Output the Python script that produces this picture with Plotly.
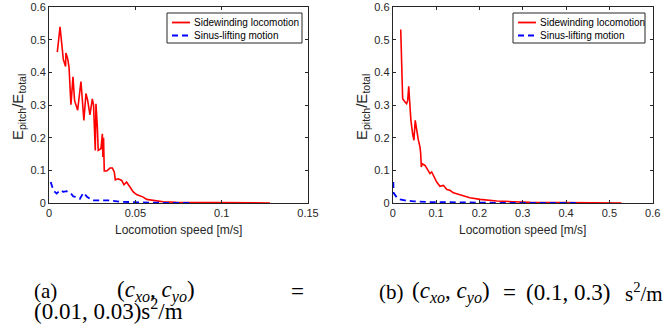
import plotly.graph_objects as go

# ---------------- data ----------------
# (a) left panel
a_side_x = [0.0048, 0.0064, 0.0083, 0.0096, 0.0098, 0.0108, 0.0116, 0.0127, 0.0139, 0.0148,
            0.0166, 0.0185, 0.0202, 0.0214, 0.0224, 0.0237, 0.0251, 0.0258, 0.0268, 0.0272,
            0.0280, 0.0285, 0.0301, 0.0309, 0.0312, 0.0316, 0.0320, 0.0334, 0.0353, 0.0367,
            0.0378, 0.0384, 0.0401, 0.0421, 0.0434, 0.0449, 0.0469, 0.0488, 0.0507, 0.0526,
            0.0546, 0.0565, 0.0604, 0.0661, 0.0738, 0.0873, 0.107, 0.128]
a_side_y = [0.462, 0.539, 0.439, 0.418, 0.459, 0.442, 0.416, 0.301, 0.386, 0.314,
            0.284, 0.372, 0.253, 0.335, 0.314, 0.270, 0.319, 0.300, 0.161, 0.304,
            0.233, 0.161, 0.166, 0.212, 0.141, 0.200, 0.098, 0.098, 0.107, 0.107,
            0.095, 0.071, 0.074, 0.069, 0.056, 0.064, 0.049, 0.034, 0.026, 0.023,
            0.018, 0.011, 0.008, 0.004, 0.002, 0.001, 0.0005, 0.0]
a_sin_x = [0.0010, 0.0025, 0.0044, 0.0064, 0.0083, 0.0102, 0.0127, 0.0141, 0.0160, 0.0179,
           0.0199, 0.0222, 0.0237, 0.0256, 0.0295, 0.0353, 0.0410, 0.0488, 0.0584, 0.0680,
           0.0835]
a_sin_y = [0.064, 0.039, 0.029, 0.039, 0.034, 0.036, 0.029, 0.020, 0.018, 0.013,
           0.031, 0.018, 0.013, 0.008, 0.008, 0.008, 0.004, 0.002, 0.001, 0.0005,
           0.0]

# (b) right panel
b_side_x = [0.0185, 0.023, 0.0285, 0.032, 0.0346, 0.037, 0.039, 0.042, 0.046, 0.049,
            0.052, 0.055, 0.059, 0.063, 0.0646, 0.066, 0.068, 0.0746, 0.080, 0.086,
            0.090, 0.095, 0.1015, 0.109, 0.117, 0.125, 0.132, 0.140, 0.155, 0.178,
            0.2015, 0.240, 0.278, 0.317, 0.394, 0.528]
b_side_y = [0.531, 0.319, 0.309, 0.304, 0.314, 0.357, 0.314, 0.253, 0.212, 0.192,
            0.253, 0.222, 0.194, 0.171, 0.151, 0.110, 0.120, 0.115, 0.105, 0.090,
            0.095, 0.080, 0.064, 0.051, 0.054, 0.041, 0.039, 0.031, 0.026, 0.016,
            0.011, 0.006, 0.004, 0.002, 0.001, 0.0]
b_sin_x = [0.0015, 0.002, 0.009, 0.017, 0.028, 0.048, 0.086, 0.163, 0.240, 0.425]
b_sin_y = [0.064, 0.031, 0.018, 0.011, 0.008, 0.005, 0.003, 0.001, 0.0005, 0.0]

series_names = ["Sidewinding locomotion", "Sinus-lifting motion"]
a_xticks = [0, 0.05, 0.1, 0.15]
a_xticklabels = ["0", "0.05", "0.1", "0.15"]
b_xticks = [0, 0.1, 0.2, 0.3, 0.4, 0.5, 0.6]
b_xticklabels = ["0", "0.1", "0.2", "0.3", "0.4", "0.5", "0.6"]
yticks = [0, 0.1, 0.2, 0.3, 0.4, 0.5, 0.6]
yticklabels = ["0", "0.1", "0.2", "0.3", "0.4", "0.5", "0.6"]

# ---------------- figure ----------------
W, H = 663, 331
AXC = "#262626"
RED = "#ff0000"
BLUE = "#0000ff"
SANS = "Liberation Sans, Arial, sans-serif"
SERIF = "Liberation Serif, Times New Roman, serif"
DASH = "6px,4px"


def px(x):
    return x / W


def py(y):
    return 1 - y / H


fig = go.Figure()

fig.add_trace(go.Scatter(x=a_side_x, y=a_side_y, mode="lines", name=series_names[0],
                         line=dict(color=RED, width=1.6), xaxis="x", yaxis="y"))
fig.add_trace(go.Scatter(x=a_sin_x, y=a_sin_y, mode="lines", name=series_names[1],
                         line=dict(color=BLUE, width=1.8, dash=DASH), xaxis="x", yaxis="y"))
fig.add_trace(go.Scatter(x=b_side_x, y=b_side_y, mode="lines", name=series_names[0],
                         line=dict(color=RED, width=1.6), xaxis="x2", yaxis="y2"))
fig.add_trace(go.Scatter(x=b_sin_x, y=b_sin_y, mode="lines", name=series_names[1],
                         line=dict(color=BLUE, width=1.8, dash=DASH), xaxis="x2", yaxis="y2"))

tickfont = dict(family=SANS, size=11, color=AXC)
axis_common = dict(showline=True, linecolor=AXC, linewidth=1, mirror="allticks",
                   ticks="inside", ticklen=3, tickcolor=AXC, tickwidth=1,
                   showgrid=False, zeroline=False, tickfont=tickfont)

A_X = (49, 308)
B_X = (392.7, 652.7)
dom_y = [py(203), py(7)]
fig.update_layout(
    width=W, height=H, margin=dict(l=0, r=0, t=0, b=0, pad=0, autoexpand=False),
    paper_bgcolor="white", plot_bgcolor="white", showlegend=False,
    xaxis=dict(domain=[px(A_X[0]), px(A_X[1])], range=[0, 0.15], tickvals=a_xticks,
               ticktext=a_xticklabels, anchor="y", **axis_common),
    yaxis=dict(domain=dom_y, range=[0, 0.6], tickvals=yticks, ticktext=yticklabels,
               anchor="x", **axis_common),
    xaxis2=dict(domain=[px(B_X[0]), px(B_X[1])], range=[0, 0.6], tickvals=b_xticks,
                ticktext=b_xticklabels, anchor="y2", **axis_common),
    yaxis2=dict(domain=dom_y, range=[0, 0.6], tickvals=yticks, ticktext=yticklabels,
                anchor="x2", **axis_common),
)

annos = []
shapes = []

# legends (MATLAB-style boxes)
legend_font = dict(family=SANS, size=10, color="black")
for (bx0, bx1) in [(167, 302), (513, 645)]:
    shapes.append(dict(type="rect", xref="paper", yref="paper", x0=px(bx0), x1=px(bx1),
                       y0=py(43), y1=py(13), line=dict(color=AXC, width=1), fillcolor="white",
                       layer="above"))
    for name, color, dash, yy in [(series_names[0], RED, "solid", 22.5),
                                  (series_names[1], BLUE, DASH, 35.5)]:
        shapes.append(dict(type="line", xref="paper", yref="paper", x0=px(bx0 + 5), x1=px(bx0 + 23),
                           y0=py(yy), y1=py(yy), line=dict(color=color, width=1.8, dash=dash),
                           layer="above"))
        annos.append(dict(text=name, x=px(bx0 + 25), y=py(yy), xref="paper", yref="paper",
                          showarrow=False, xanchor="left", yanchor="middle", font=legend_font))

# axis titles
title_font = dict(family=SANS, size=12, color=AXC)
ytitle = "E<sub>pitch</sub>/E<sub>total</sub>"
for (x0, x1) in [A_X, B_X]:
    annos.append(dict(text="Locomotion speed [m/s]", x=px((x0 + x1) / 2), y=py(230), xref="paper",
                      yref="paper", showarrow=False, xanchor="center", yanchor="middle",
                      font=title_font))
for cx in [19, 363]:
    annos.append(dict(text=ytitle, x=px(cx), y=py(107), xref="paper", yref="paper",
                      showarrow=False, xanchor="center", yanchor="middle", textangle=-90,
                      font=dict(family=SANS, size=15, color=AXC)))

# captions
text_font = dict(family=SERIF, size=21, color="black")
math_font = dict(family=SERIF, size=23, color="black")
c_xo = "<i>c</i><sub><i>xo</i></sub>"
c_yo = "<i>c</i><sub><i>yo</i></sub>"
caps = [
    ("(a)", 32, 291, text_font, "left"),
    (f"({c_xo}, {c_yo})", 156, 291, math_font, "center"),
    ("=", 297, 291, math_font, "center"),
    ("(0.01, 0.03)s<sup>2</sup>/m", 32, 309, math_font, "left"),
    ("(b)", 377, 292, text_font, "left"),
    (f"({c_xo}, {c_yo})", 451, 292, math_font, "center"),
    ("=", 509, 292, math_font, "center"),
    ("(0.1, 0.3)", 568, 292, math_font, "center"),
    ("s<sup>2</sup>/m", 623, 292, text_font, "left"),
]
for txt, x, y, f, anc in caps:
    annos.append(dict(text=txt, x=px(x), y=py(y), xref="paper", yref="paper", showarrow=False,
                      xanchor=anc, yanchor="middle", font=f))

fig.update_layout(annotations=annos, shapes=shapes)
fig.write_html("out.html", config={"displayModeBar": False},
               post_script="document.body.style.margin='0';document.body.style.overflow='hidden';")
